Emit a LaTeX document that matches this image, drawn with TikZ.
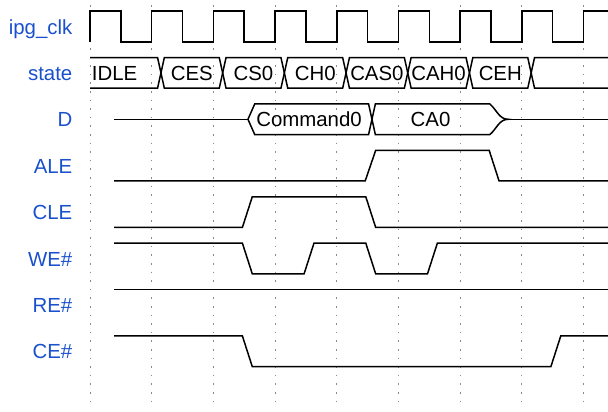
\documentclass[tikz,border=0pt]{standalone}
\usepackage{fontspec}
\setmainfont{Liberation Sans}
\definecolor{sigblue}{RGB}{25,80,205}

\begin{document}
\begin{tikzpicture}[x=30.85pt, y=23.2pt,
    sig/.style={line width=0.75pt},
    tick/.style={black!45, line width=0.5pt, dash pattern=on 0.8pt off 3.5pt},
    signame/.style={sigblue, font=\fontsize{10.2}{12}\selectfont, inner sep=0pt, anchor=base east},
    busval/.style={font=\fontsize{10.2}{12}\selectfont, inner sep=0pt, anchor=base}]
    \useasboundingbox (-1.4587,0.571) rectangle (8.3955,-8.308);

    % dotted grid, one line per clock rise
    \foreach \k in {0,...,8}
        \draw[tick] (\k,0.463) -- (\k,-8.157);

    % signal names, one row per unit
    \node[signame] (nclk) at (-0.28,-0.165) {ipg\_clk};
    \node[signame] (nstate) at (-0.28,-1.165) {state};
    \node[signame] (nd) at (-0.28,-2.165) {D};
    \node[signame] (nale) at (-0.28,-3.165) {ALE};
    \node[signame] (ncle) at (-0.28,-4.165) {CLE};
    \node[signame] (nwe) at (-0.28,-5.165) {WE\#};
    \node[signame] (nre) at (-0.28,-6.165) {RE\#};
    \node[signame] (nce) at (-0.28,-7.165) {CE\#};

    % ipg_clk
    \draw[sig] (0,-0.33)
        \foreach \k in {0,...,7} { -- (\k,0.33) -- (\k+0.5,0.33) -- (\k+0.5,-0.33) -- (\k+1,-0.33) }
        -- (8,0.33) -- (8.4,0.33);

    % state bus
    \draw[sig] (0,-0.67) -- (1.095,-0.67) -- (1.15,-1) -- (1.095,-1.33) -- (0,-1.33);
    \node[busval, anchor=base west] (sidle) at (0.025,-1.165) {IDLE};
    \foreach \k/\st in {1/CES,2/CS0,3/CH0,4/CAS0,5/CAH0,6/CEH} {
        \draw[sig] (\k+0.15,-1) -- (\k+0.205,-0.67) -- (\k+1.095,-0.67) -- (\k+1.15,-1)
            -- (\k+1.095,-1.33) -- (\k+0.205,-1.33) -- cycle;
        \node[busval] (s\k) at (\k+0.65,-1.165) {\st};
    }
    \draw[sig] (8.4,-0.67) -- (7.205,-0.67) -- (7.15,-1) -- (7.205,-1.33) -- (8.4,-1.33);

    % D bus
    \draw[sig] (0.39,-2) -- (2.56,-2);
    \draw[sig] (2.56,-2) -- (2.67,-1.67) -- (4.515,-1.67) -- (4.57,-2) -- (4.515,-2.33) -- (2.67,-2.33) -- cycle;
    \draw[sig] (4.57,-2) -- (4.625,-1.67) -- (6.48,-1.67) to[out=-40, in=180] (6.78,-2)
        to[out=180, in=40] (6.48,-2.33) -- (4.625,-2.33) -- cycle;
    \draw[sig] (6.78,-2) -- (8.4,-2);
    \node[busval] (dcmd) at (3.55,-2.165) {Command0};
    \node[busval] (dca) at (5.52,-2.165) {CA0};

    % control lines
    \draw[sig] (0.39,-3.33) -- (4.46,-3.33) -- (4.63,-2.67) -- (6.47,-2.67) -- (6.63,-3.33) -- (8.4,-3.33);
    \draw[sig] (0.39,-4.33) -- (2.47,-4.33) -- (2.63,-3.67) -- (4.47,-3.67) -- (4.63,-4.33) -- (8.4,-4.33);
    \draw[sig] (0.39,-4.67) -- (2.47,-4.67) -- (2.63,-5.33) -- (3.47,-5.33) -- (3.63,-4.67) -- (4.47,-4.67)
        -- (4.63,-5.33) -- (5.47,-5.33) -- (5.63,-4.67) -- (8.4,-4.67);
    \draw[sig] (0.39,-5.67) -- (8.4,-5.67);
    \draw[sig] (0.39,-6.67) -- (2.47,-6.67) -- (2.63,-7.33) -- (7.47,-7.33) -- (7.63,-6.67) -- (8.4,-6.67);
\end{tikzpicture}
\end{document}
